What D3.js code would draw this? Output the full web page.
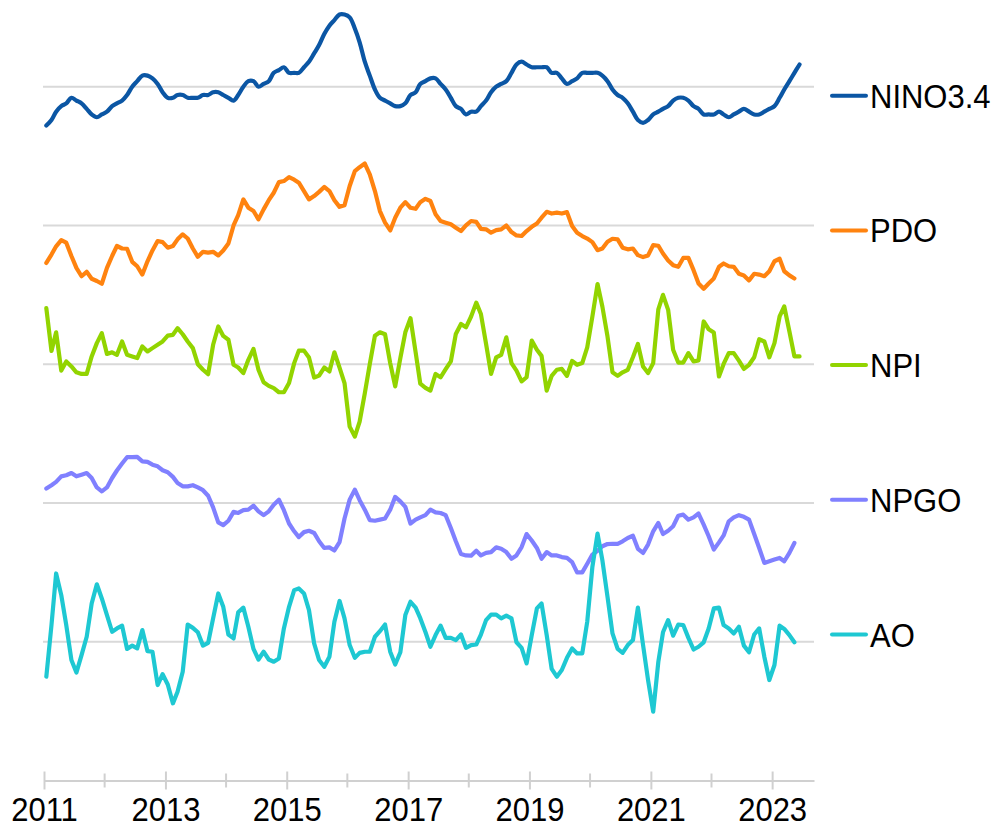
<!DOCTYPE html>
<html>
<head>
<meta charset="utf-8">
<script src="https://cdn.jsdelivr.net/npm/d3@7"></script>
<style>
body { margin: 0; background: #fff; }
svg { display: block; font-family: "Liberation Sans", Arial, sans-serif; }
.grid line { stroke: #d9d9d9; stroke-width: 2px; }
.series path { fill: none; stroke-width: 4.2px; stroke-linejoin: round; stroke-linecap: round; }
.axis path, .axis line { stroke: #d0d0d0; stroke-width: 2px; }
.axis text { font-size: 31px; fill: #000; }
.legend text { font-size: 31px; fill: #000; }
.legend line { stroke-width: 4px; stroke-linecap: round; }
</style>
</head>
<body>
<svg width="995" height="827"></svg>
<script>

// monthly values, starting January 2011
var nino34 = [
  -1.4, -1.2, -0.9, -0.7, -0.6, -0.4, -0.5, -0.6, -0.8, -1.0, -1.1, -1.0,
  -0.9, -0.7, -0.6, -0.5, -0.3, 0.0, 0.2, 0.4, 0.4, 0.3, 0.1, -0.2,
  -0.4, -0.4, -0.3, -0.3, -0.4, -0.4, -0.4, -0.3, -0.3, -0.2, -0.2, -0.3,
  -0.4, -0.5, -0.3, 0.0, 0.2, 0.2, 0.0, 0.1, 0.2, 0.5, 0.6, 0.7,
  0.5, 0.5, 0.5, 0.7, 0.9, 1.2, 1.5, 1.9, 2.2, 2.4, 2.6, 2.6,
  2.5, 2.1, 1.6, 0.9, 0.4, -0.1, -0.4, -0.5, -0.6, -0.7, -0.7, -0.6,
  -0.3, -0.2, 0.1, 0.2, 0.3, 0.3, 0.1, -0.1, -0.4, -0.7, -0.8, -1.0,
  -0.9, -0.9, -0.7, -0.5, -0.2, 0.0, 0.1, 0.2, 0.5, 0.8, 0.9, 0.8,
  0.7, 0.7, 0.7, 0.7, 0.5, 0.5, 0.3, 0.1, 0.2, 0.3, 0.5, 0.5,
  0.5, 0.5, 0.4, 0.2, -0.1, -0.3, -0.4, -0.6, -0.9, -1.2, -1.3, -1.2,
  -1.0, -0.9, -0.8, -0.7, -0.5, -0.4, -0.4, -0.5, -0.7, -0.8, -1.0, -1.0,
  -1.0, -0.9, -1.0, -1.1, -1.0, -0.9, -0.8, -0.9, -1.0, -1.0, -0.9, -0.8,
  -0.7, -0.4, -0.1, 0.2, 0.5, 0.8
];

var pdo = [
  -1.35, -1.05, -0.75, -0.53, -0.62, -1.1, -1.53, -1.83, -1.67, -1.92, -2.0, -2.1,
  -1.53, -1.1, -0.74, -0.83, -0.84, -1.31, -1.47, -1.77, -1.29, -0.9, -0.56, -0.6,
  -0.8, -0.74, -0.5, -0.32, -0.47, -0.83, -1.13, -0.95, -0.98, -0.95, -1.08, -0.9,
  -0.65, 0.0, 0.37, 0.94, 0.64, 0.52, 0.22, 0.58, 0.91, 1.18, 1.56, 1.6,
  1.74, 1.65, 1.54, 1.24, 0.94, 1.06, 1.21, 1.39, 1.24, 0.91, 0.67, 0.73,
  1.42, 1.96, 2.1, 2.23, 1.84, 1.24, 0.52, 0.1, -0.18, 0.28, 0.64, 0.84,
  0.64, 0.6, 0.84, 0.96, 0.88, 0.4, 0.16, 0.1, 0.04, -0.08, -0.2, 0.0,
  0.16, 0.13, -0.12, -0.14, -0.26, -0.17, -0.14, 0.0, -0.24, -0.36, -0.38, -0.2,
  -0.05, 0.07, 0.28, 0.49, 0.43, 0.46, 0.43, 0.48, -0.02, -0.26, -0.38, -0.47,
  -0.6, -0.89, -0.83, -0.59, -0.48, -0.5, -0.8, -0.86, -0.83, -1.07, -1.14, -1.08,
  -0.71, -0.73, -1.01, -1.26, -1.43, -1.49, -1.17, -1.17, -1.61, -2.09, -2.28, -2.09,
  -1.91, -1.49, -1.37, -1.47, -1.49, -1.74, -1.8, -1.98, -1.74, -1.77, -1.83, -1.65,
  -1.29, -1.2, -1.65, -1.8, -1.91
];

var npi = [
  2.02, 0.48, 1.15, -0.23, 0.1, -0.08, -0.29, -0.35, -0.35, 0.28, 0.76, 1.12,
  0.37, 0.43, 0.34, 0.82, 0.34, 0.28, 0.22, 0.64, 0.46, 0.58, 0.7, 0.82,
  1.03, 1.06, 1.3, 1.08, 0.82, 0.58, 0.0, -0.2, -0.36, 0.7, 1.36, 1.02,
  0.88, -0.02, -0.12, -0.32, 0.16, 0.55, -0.2, -0.65, -0.78, -0.86, -1.01, -1.01,
  -0.68, 0.04, 0.49, 0.49, 0.24, -0.48, -0.41, -0.12, -0.26, 0.43, -0.12, -0.68,
  -2.25, -2.61, -2.07, -1.05, 0.0, 1.03, 1.15, 1.08, 0.04, -0.8, 0.22, 1.15,
  1.66, 0.43, -0.7, -0.85, -0.95, -0.35, -0.47, -0.18, 0.1, 1.09, 1.45, 1.33,
  1.72, 2.22, 1.81, 0.73, -0.35, 0.25, 0.34, 0.97, 0.04, -0.23, -0.62, -0.47,
  0.85, 0.52, 0.3, -0.95, -0.42, -0.2, -0.17, -0.42, 0.12, -0.02, 0.04, 0.61,
  1.72, 2.89, 2.08, 1.0, -0.29, -0.42, -0.29, -0.2, 0.25, 0.73, -0.08, -0.32,
  0.04, 1.98, 2.5, 1.96, 0.52, 0.06, 0.06, 0.4, 0.1, 0.14, 1.54, 1.26,
  1.14, -0.44, 0.01, 0.4, 0.4, 0.13, -0.17, -0.02, 0.25, 0.9, 0.82, 0.25,
  0.76, 1.72, 2.08, 1.18, 0.28, 0.28
];

var npgo = [
  0.52, 0.64, 0.76, 0.96, 1.0, 1.08, 0.96, 1.02, 1.08, 0.9, 0.56, 0.42,
  0.56, 0.9, 1.17, 1.42, 1.65, 1.65, 1.66, 1.5, 1.48, 1.38, 1.32, 1.18,
  1.11, 0.94, 0.72, 0.6, 0.6, 0.64, 0.56, 0.46, 0.26, -0.16, -0.7, -0.8,
  -0.64, -0.32, -0.36, -0.26, -0.24, -0.1, -0.3, -0.44, -0.3, -0.06, 0.12, -0.26,
  -0.74, -1.02, -1.23, -1.05, -1.0, -1.08, -1.38, -1.62, -1.6, -1.71, -1.41, -0.56,
  0.12, 0.48, 0.1, -0.24, -0.62, -0.64, -0.6, -0.56, -0.24, 0.22, 0.06, -0.14,
  -0.74, -0.6, -0.52, -0.44, -0.24, -0.34, -0.36, -0.44, -0.9, -1.38, -1.84, -1.89,
  -1.9, -1.72, -1.89, -1.8, -1.77, -1.6, -1.65, -1.77, -2.01, -1.89, -1.59, -1.12,
  -1.35, -1.62, -2.01, -1.77, -1.89, -1.89, -1.95, -1.98, -2.13, -2.5, -2.5, -2.19,
  -1.86, -1.72, -1.56, -1.48, -1.47, -1.47, -1.38, -1.26, -1.18, -1.65, -1.8, -1.5,
  -1.02, -0.72, -1.12, -1.0, -0.84, -0.46, -0.42, -0.6, -0.52, -0.38, -0.78, -1.2,
  -1.68, -1.42, -1.17, -0.66, -0.52, -0.44, -0.5, -0.6, -1.12, -1.62, -2.16, -2.1,
  -2.04, -1.98, -2.1, -1.8, -1.44
];

var ao = [
  -1.26, 0.6, 2.46, 1.68, 0.6, -0.66, -1.11, -0.48, 0.18, 1.38, 2.07, 1.56,
  0.96, 0.36, 0.48, 0.58, -0.26, -0.14, -0.24, 0.42, -0.34, -0.36, -1.56, -1.17,
  -1.54, -2.22, -1.8, -1.08, 0.62, 0.5, 0.34, -0.14, -0.04, 0.84, 1.74, 1.26,
  0.26, 0.12, 1.06, 1.23, 0.54, -0.26, -0.64, -0.36, -0.64, -0.72, -0.6, 0.48,
  1.26, 1.86, 1.92, 1.74, 1.14, -0.06, -0.66, -0.9, -0.54, 0.72, 1.47, 0.84,
  -0.12, -0.58, -0.4, -0.36, -0.36, 0.18, 0.38, 0.62, -0.36, -0.82, -0.38, 0.96,
  1.44, 1.23, 0.85, 0.35, -0.18, 0.24, 0.58, 0.14, 0.14, 0.06, 0.26, -0.22,
  -0.12, -0.1, 0.26, 0.78, 0.98, 0.98, 0.84, 0.94, 0.84, -0.02, -0.22, -0.78,
  0.24, 1.2, 1.38, 0.24, -0.98, -1.26, -1.02, -0.58, -0.24, -0.42, -0.42, 0.72,
  2.7, 3.9, 2.94, 1.62, 0.3, -0.26, -0.4, -0.12, 0.06, 1.23, -0.12, -1.38,
  -2.52, -0.72, 0.34, 0.78, 0.22, 0.62, 0.6, 0.14, -0.28, -0.18, -0.02, 0.48,
  1.2, 1.23, 0.6, 0.48, 0.3, 0.54, -0.14, -0.38, 0.26, 0.48, -0.54, -1.38,
  -0.84, 0.58, 0.46, 0.24, -0.02
];

var seriesNames = ["NINO3.4", "PDO", "NPI", "NPGO", "AO"];
var seriesValues = [nino34, pdo, npi, npgo, ao];
var seriesOffsets = [20, 15, 10, 5, 0];
var seriesColors = ["#0b56a4", "#ff830f", "#92d400", "#8080ff", "#1ec8d2"];
var labelYears = [2011, 2013, 2015, 2017, 2019, 2021, 2023];
var minorYears = [2012, 2014, 2016, 2018, 2020, 2022];

var svg = d3.select("svg");

var x = d3.scaleTime()
    .domain([new Date(2011, 0, 1), new Date(2023, 8, 10)])
    .range([44, 814]);

var y = d3.scaleLinear()
    .domain([-5, 20])
    .range([780.5, 86.7]);

// horizontal reference line for each series
svg.append("g")
    .attr("class", "grid")
  .selectAll("line")
    .data(seriesOffsets)
  .enter().append("line")
    .attr("x1", x.range()[0] - 1)
    .attr("x2", x.range()[1])
    .attr("y1", function(d) { return y(d); })
    .attr("y2", function(d) { return y(d); });

// x axis: labelled years get long ticks, the others short ones
var axisG = svg.append("g")
    .attr("class", "axis")
    .attr("transform", "translate(0," + y(-5) + ")")
    .call(d3.axisBottom(x)
      .tickValues(labelYears.map(function(yr) { return new Date(yr, 0, 1); }))
      .tickFormat(d3.timeFormat("%Y"))
      .tickSizeOuter(0));

axisG.selectAll(".tick line").attr("y1", -9).attr("y2", 9);
axisG.selectAll(".tick text")
    .attr("y", 0)
    .attr("dy", 0)
    .attr("transform", "translate(0,40) scale(1,1.07)");

axisG.selectAll(".minor")
    .data(minorYears)
  .enter().append("line")
    .attr("class", "minor")
    .attr("x1", function(d) { return x(new Date(d, 0, 1)); })
    .attr("x2", function(d) { return x(new Date(d, 0, 1)); })
    .attr("y1", -7)
    .attr("y2", 7);

// lines
var lineFor = function(offset, smooth) {
  return d3.line()
    .x(function(d, i) { return x(new Date(2011, i, 15)); })
    .y(function(d) { return y(d + offset); })
    .curve(smooth ? d3.curveCatmullRom.alpha(0.5) : d3.curveLinear);
};

svg.append("g")
    .attr("class", "series")
  .selectAll("path")
    .data(seriesValues)
  .enter().append("path")
    .attr("stroke", function(d, i) { return seriesColors[i]; })
    .attr("d", function(d, i) { return lineFor(seriesOffsets[i], i === 0)(d); });

// legend
var legend = svg.selectAll("g.legend")
    .data(seriesNames)
  .enter().append("g")
    .attr("class", "legend")
    .attr("transform", function(d, i) { return "translate(0," + (95.7 + i * 134.7) + ")"; });

legend.append("line")
    .attr("x1", 832)
    .attr("x2", 866)
    .attr("stroke", function(d, i) { return seriesColors[i]; });

legend.append("text")
    .attr("transform", "translate(870,12) scale(1,1.08)")
    .text(function(d) { return d; });

</script>
</body>
</html>
